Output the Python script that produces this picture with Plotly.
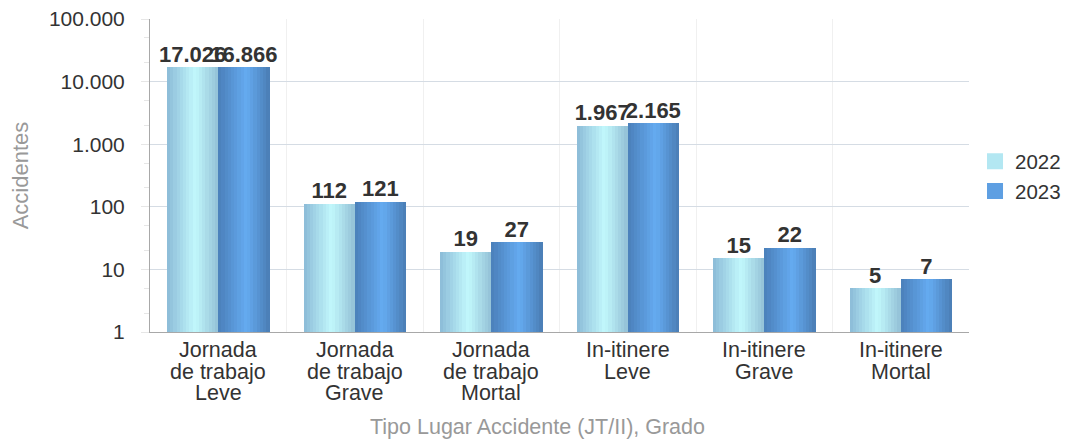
import plotly.graph_objects as go
import numpy as np

categories = ["Jornada<br>de trabajo<br>Leve", "Jornada<br>de trabajo<br>Grave", "Jornada<br>de trabajo<br>Mortal",
              "In-itinere<br>Leve", "In-itinere<br>Grave", "In-itinere<br>Mortal"]
series_names = ["2022", "2023"]
values_2022 = [17026, 112, 19, 1967, 15, 5]
values_2023 = [16866, 121, 27, 2165, 22, 7]
ytick_vals = [1, 10, 100, 1000, 10000, 100000]
ytick_text = ["1", "10", "100", "1.000", "10.000", "100.000"]
x_title = "Tipo Lugar Accidente (JT/II), Grado"
y_title = "Accidentes"


def fmt(v):
    return f"{v:,}".replace(",", ".")


def hex2rgb(h):
    h = h.lstrip("#")
    return np.array([int(h[i:i + 2], 16) for i in (0, 2, 4)], dtype=float)


def grad(edge_l, center, edge_r, t, cpos=0.55):
    a, c, b = hex2rgb(edge_l), hex2rgb(center), hex2rgb(edge_r)
    if t <= cpos:
        u = t / cpos
        col = a + (c - a) * u
    else:
        u = (t - cpos) / (1 - cpos)
        col = c + (b - c) * u
    return "rgb(%d,%d,%d)" % tuple(np.round(col))


styles = [("#8bbad7", "#c2f8fc", "#93c0d6"), ("#4a7fb9", "#65abf1", "#4a7db4")]
series_vals = [values_2022, values_2023]
FONT = "Liberation Sans, Arial"

W, H = 1058, 432
ML, MR, MT, MB = 142, 97, 11, 108

fig = go.Figure()
x_idx = np.arange(len(categories))
bar_w = 0.375
N = 16
sw = bar_w / N
for s, (name, vals, st) in enumerate(zip(series_names, series_vals, styles)):
    start = -bar_w + s * bar_w
    for i in range(N):
        t = (i + 0.5) / N
        fig.add_trace(go.Bar(
            x=x_idx + start + (i + 0.5) * sw, y=vals, width=sw * 1.04,
            marker=dict(color=grad(*st, t), line=dict(width=0)),
            showlegend=False, hoverinfo="skip"))
    fig.add_trace(go.Scatter(
        x=x_idx + start + bar_w / 2, y=vals, mode="text",
        text=[fmt(v) for v in vals], textposition="top center",
        textfont=dict(family=FONT, size=22, color="#333333", weight="bold"),
        showlegend=False, hoverinfo="skip", cliponaxis=False))
    # legend entry
    fig.add_trace(go.Scatter(x=[None], y=[None], name=name, mode="markers",
                             marker=dict(symbol="square", size=16, color=grad(*st, 0.4)),
                             showlegend=True))

# category labels, one line each
for i, cat in enumerate(categories):
    for j, line in enumerate(cat.split("<br>")):
        fig.add_annotation(x=i, xref="x", y=0, yref="paper", yanchor="middle",
                           yshift=-(18 + j * 21.5), text=line, showarrow=False,
                           borderpad=0,
                           font=dict(family=FONT, size=21.5, color="#333333"))
plot_w = W - ML - MR
fig.add_annotation(x=(537 - 8 - ML) / plot_w, xref="paper", y=0, yref="paper", yanchor="middle",
                   yshift=-95, text=x_title, showarrow=False,
                   font=dict(family=FONT, size=21.5, color="#999999"))

fig.update_layout(
    width=W, height=H,
    margin=dict(l=ML, r=MR, t=MT, b=MB),
    paper_bgcolor="white", plot_bgcolor="white",
    barmode="overlay", bargap=0,
    font=dict(family=FONT, size=21, color="#333333"),
    legend=dict(xref="container", yref="container", x=0.914, y=0.61,
                xanchor="left", yanchor="middle",
                font=dict(size=20.5, color="#333333"), tracegroupgap=0,
                itemwidth=30, bgcolor="rgba(0,0,0,0)"),
)
fig.update_xaxes(
    range=[-0.5, len(categories) - 0.5], automargin=False,
    tickvals=list(x_idx), showticklabels=False,
    showgrid=False, zeroline=False,
    showline=True, linecolor="#a8a8a8", linewidth=1,
    ticks="",
    minor=dict(tickvals=list(x_idx[:-1] + 0.5) + [len(categories) - 0.5], showgrid=True,
               gridcolor="#f0f0f0", gridwidth=1, ticks=""),
)
fig.update_yaxes(
    type="log", range=[0, 5], automargin=False,
    tickvals=ytick_vals, ticktext=ytick_text, ticklabeloverflow="allow",
    showgrid=True, gridcolor="#d5dce4", gridwidth=1,
    showline=True, linecolor="#a8a8a8", linewidth=1,
    ticks="outside", ticklen=8, tickcolor="#e6e6e6", ticklabelstandoff=12,
    tickfont=dict(size=21, color="#333333"),
    minor=dict(ticks="outside", ticklen=5, tickcolor="#e6e6e6", showgrid=False),
    title=dict(text=y_title, font=dict(size=22, color="#999999"), standoff=14),
    zeroline=False,
)

fig.write_html("out.html")
